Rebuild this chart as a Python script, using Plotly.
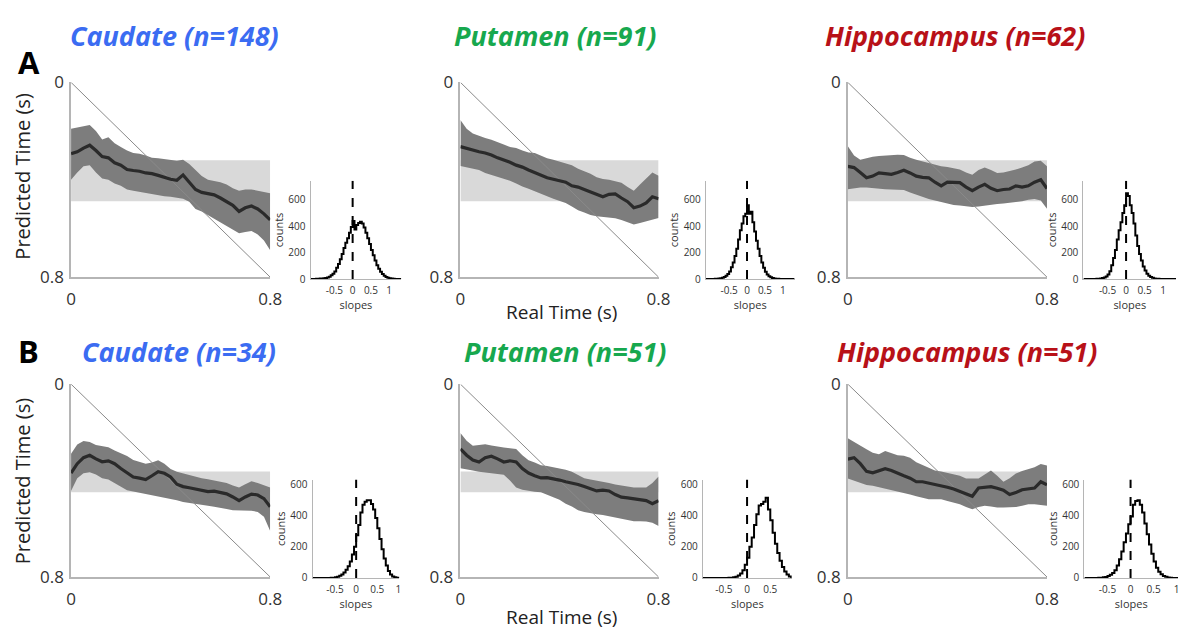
import numpy as np
import plotly.graph_objects as go

W, H = 1196, 641

# ---------------- data ----------------
t = np.round(np.linspace(0, 0.8, 33), 4)   # real time (s)

band_A = [0.32, 0.488]   # light grey reference band, row A
band_B = [0.362, 0.448]  # row B

caudA_mean = [0.293,0.285,0.27,0.258,0.28,0.305,0.31,0.33,0.34,0.358,0.362,0.365,0.372,0.375,0.382,0.39,0.398,0.402,0.38,0.41,0.44,0.452,0.458,0.462,0.475,0.49,0.505,0.53,0.515,0.508,0.52,0.54,0.565]
caudA_up = [0.19,0.185,0.18,0.175,0.2,0.235,0.225,0.25,0.265,0.28,0.29,0.293,0.3,0.31,0.312,0.315,0.318,0.322,0.318,0.335,0.36,0.385,0.4,0.405,0.41,0.42,0.435,0.445,0.44,0.44,0.445,0.45,0.455]
caudA_lo = [0.4,0.37,0.345,0.34,0.37,0.395,0.4,0.415,0.425,0.44,0.445,0.45,0.455,0.458,0.462,0.468,0.47,0.474,0.478,0.49,0.52,0.53,0.545,0.56,0.575,0.59,0.605,0.62,0.615,0.61,0.625,0.65,0.69]

putA_mean = [0.264,0.272,0.28,0.285,0.29,0.298,0.31,0.318,0.328,0.34,0.348,0.36,0.37,0.38,0.392,0.398,0.404,0.41,0.425,0.43,0.44,0.45,0.462,0.47,0.46,0.458,0.475,0.49,0.515,0.508,0.495,0.47,0.478]
putA_up = [0.155,0.19,0.21,0.22,0.228,0.236,0.244,0.255,0.265,0.27,0.28,0.288,0.29,0.3,0.312,0.318,0.325,0.33,0.34,0.355,0.365,0.375,0.39,0.397,0.4,0.405,0.412,0.43,0.445,0.42,0.397,0.37,0.384]
putA_lo = [0.344,0.35,0.355,0.36,0.372,0.38,0.386,0.395,0.404,0.415,0.428,0.437,0.448,0.46,0.468,0.478,0.487,0.495,0.51,0.525,0.535,0.545,0.55,0.552,0.555,0.558,0.565,0.575,0.584,0.578,0.57,0.565,0.557]

hipA_mean = [0.345,0.35,0.37,0.392,0.385,0.372,0.375,0.378,0.37,0.361,0.372,0.385,0.39,0.392,0.41,0.425,0.41,0.41,0.412,0.43,0.445,0.43,0.419,0.435,0.445,0.44,0.438,0.425,0.43,0.425,0.41,0.4,0.436]
hipA_up = [0.262,0.3,0.318,0.31,0.305,0.302,0.3,0.298,0.297,0.298,0.31,0.318,0.325,0.332,0.338,0.345,0.348,0.352,0.358,0.37,0.379,0.36,0.35,0.36,0.372,0.37,0.365,0.358,0.35,0.34,0.325,0.322,0.345]
hipA_lo = [0.439,0.435,0.432,0.432,0.435,0.438,0.439,0.44,0.44,0.442,0.452,0.462,0.47,0.479,0.485,0.492,0.498,0.504,0.506,0.51,0.512,0.51,0.506,0.504,0.5,0.498,0.495,0.492,0.488,0.482,0.479,0.485,0.519]

caudB_mean = [0.369,0.33,0.305,0.295,0.31,0.322,0.318,0.33,0.35,0.368,0.385,0.39,0.396,0.38,0.363,0.37,0.385,0.415,0.425,0.43,0.436,0.44,0.446,0.444,0.449,0.455,0.468,0.483,0.468,0.456,0.46,0.475,0.509]
caudB_up = [0.289,0.25,0.236,0.24,0.252,0.256,0.262,0.275,0.285,0.298,0.315,0.323,0.33,0.325,0.316,0.33,0.352,0.363,0.37,0.378,0.383,0.39,0.395,0.4,0.403,0.41,0.42,0.429,0.415,0.403,0.41,0.42,0.429]
caudB_lo = [0.443,0.39,0.37,0.365,0.375,0.39,0.396,0.41,0.425,0.44,0.445,0.45,0.456,0.46,0.465,0.469,0.475,0.482,0.489,0.492,0.496,0.5,0.504,0.509,0.512,0.518,0.523,0.523,0.523,0.525,0.53,0.55,0.609]

putB_mean = [0.269,0.295,0.315,0.323,0.305,0.299,0.31,0.323,0.318,0.323,0.35,0.369,0.38,0.389,0.388,0.392,0.398,0.405,0.409,0.416,0.425,0.435,0.443,0.44,0.443,0.458,0.469,0.472,0.476,0.48,0.483,0.496,0.483]
putB_up = [0.203,0.235,0.256,0.252,0.249,0.255,0.26,0.263,0.266,0.269,0.295,0.316,0.325,0.336,0.34,0.345,0.349,0.355,0.363,0.375,0.39,0.396,0.4,0.403,0.41,0.416,0.42,0.425,0.429,0.429,0.429,0.41,0.383]
putB_lo = [0.349,0.352,0.358,0.363,0.366,0.369,0.372,0.376,0.4,0.429,0.438,0.443,0.446,0.449,0.458,0.469,0.48,0.496,0.508,0.523,0.53,0.536,0.54,0.543,0.548,0.556,0.56,0.565,0.569,0.569,0.57,0.575,0.589]

hipB_mean = [0.311,0.305,0.33,0.362,0.368,0.36,0.351,0.358,0.37,0.38,0.39,0.405,0.405,0.41,0.415,0.42,0.428,0.435,0.445,0.455,0.465,0.431,0.428,0.425,0.432,0.44,0.458,0.45,0.438,0.435,0.431,0.405,0.418]
hipB_up = [0.224,0.24,0.257,0.27,0.285,0.291,0.277,0.285,0.295,0.297,0.305,0.324,0.335,0.348,0.358,0.362,0.368,0.371,0.38,0.391,0.391,0.391,0.375,0.358,0.38,0.405,0.39,0.371,0.36,0.351,0.345,0.331,0.338]
hipB_lo = [0.391,0.4,0.41,0.418,0.422,0.428,0.431,0.438,0.445,0.451,0.458,0.465,0.47,0.478,0.478,0.478,0.485,0.49,0.498,0.51,0.519,0.51,0.505,0.508,0.512,0.512,0.512,0.51,0.505,0.498,0.498,0.5,0.505]

# slope histograms (bin width 0.05, first left edge given)
bin_w = 0.05
caudA_start = -1.0
caudA_counts = [2,3,4,5,6,8,12,18,28,40,58,85,115,150,190,235,275,310,350,395,440,375,410,425,435,420,390,350,310,265,220,180,140,105,78,55,38,25,15,10,6,4,2,1]
putA_start = -1.0
putA_counts = [1,1,2,3,4,6,10,16,25,38,58,90,125,175,230,300,370,420,475,495,560,495,510,430,360,290,230,175,125,85,55,35,22,13,8,5,3,2,1,1]
hipA_start = -0.8
hipA_counts = [2,3,5,8,12,20,35,60,105,160,220,300,370,430,500,560,650,630,560,500,420,330,250,190,140,95,65,40,25,15,9,5,3,2,1]
caudB_start = -0.6
caudB_counts = [1,2,4,8,14,22,35,52,75,105,150,200,275,340,420,470,490,500,500,475,440,385,320,250,185,125,80,45,22,10,4,1]
putB_start = -0.4
putB_counts = [1,2,4,8,16,28,50,85,130,200,260,340,410,465,475,490,515,440,370,290,220,160,110,70,42,22,10,4]
hipB_start = -0.7
hipB_counts = [1,2,4,6,12,20,32,50,80,120,170,230,285,345,395,470,495,500,470,420,350,280,215,155,105,65,40,24,13,7,3,1]

titles_A = ["Caudate (n=148)", "Putamen (n=91)", "Hippocampus (n=62)"]
titles_B = ["Caudate (n=34)", "Putamen (n=51)", "Hippocampus (n=51)"]
title_colors = ["#3b6cf2", "#17a84e", "#b81118"]

main_ticks = [0, 0.8]
hist_xticks = [-0.5, 0, 0.5, 1]
hist_yticks = [0, 200, 400, 600]

# ---------------- layout geometry (pixels) ----------------
main_x = [(67, 269), (462, 663), (855, 1057)]
main_y = {"A": (73, 275), "B": (386, 586)}
hist_x = {"A": [(310, 402), (711, 801), (1094, 1188)],
          "B": [(312, 400), (708, 798), (1095, 1190)]}
hist_y = {"A": (175, 277), "B": (485, 587)}
hist_xrange = {"A": [[-1.15, 1.33], [-1.15, 1.33], [-1.15, 1.35]],
               "B": [[-1.03, 1.02], [-0.95, 0.96], [-1.0, 1.03]]}
hist_yrange = {"A": [0, 745], "B": [0, 632]}

def xd(p):
    return [p[0] / W, p[1] / W]

def yd(p):
    return [1 - p[1] / H, 1 - p[0] / H]

FONT = "Open Sans"
fig = go.Figure()
layout = {}

main_sets = {
    "A": [(caudA_mean, caudA_up, caudA_lo), (putA_mean, putA_up, putA_lo), (hipA_mean, hipA_up, hipA_lo)],
    "B": [(caudB_mean, caudB_up, caudB_lo), (putB_mean, putB_up, putB_lo), (hipB_mean, hipB_up, hipB_lo)],
}
hist_sets = {
    "A": [(caudA_start, caudA_counts), (putA_start, putA_counts), (hipA_start, hipA_counts)],
    "B": [(caudB_start, caudB_counts), (putB_start, putB_counts), (hipB_start, hipB_counts)],
}
bands = {"A": band_A, "B": band_B}

idx = 0
for row in ["A", "B"]:
    for c in range(3):
        # ---------- main panel ----------
        idx += 1
        xa, ya = f"x{idx}", f"y{idx}"
        mean, up, lo = main_sets[row][c]
        b0, b1 = bands[row]
        fig.add_trace(go.Scatter(x=[0, 0.8, 0.8, 0, 0], y=[b0, b0, b1, b1, b0], fill="toself",
                                 fillcolor="#d9d9d9", line=dict(width=0), mode="lines",
                                 xaxis=xa, yaxis=ya, hoverinfo="skip"))
        fig.add_trace(go.Scatter(x=t, y=up, mode="lines", line=dict(width=0, color="#7d7d7d"),
                                 xaxis=xa, yaxis=ya, hoverinfo="skip"))
        fig.add_trace(go.Scatter(x=t, y=lo, mode="lines", line=dict(width=0, color="#7d7d7d"),
                                 fill="tonexty", fillcolor="#7d7d7d", xaxis=xa, yaxis=ya, hoverinfo="skip"))
        fig.add_trace(go.Scatter(x=main_ticks, y=main_ticks, mode="lines",
                                 line=dict(width=1, color="#8a8a8a"), xaxis=xa, yaxis=ya, hoverinfo="skip"))
        fig.add_trace(go.Scatter(x=t, y=mean, mode="lines", line=dict(width=3.2, color="#2a2a2a"),
                                 xaxis=xa, yaxis=ya))
        common = dict(showgrid=False, zeroline=False, showline=True, linecolor="#b5b5b5", linewidth=1.5,
                      ticks="", tickvals=main_ticks, ticktext=["0", "0.8"],
                      tickfont=dict(family=FONT, size=17, color="#333333"))
        layout[f"xaxis{idx}"] = dict(domain=xd(main_x[c]), range=[0, 0.8], anchor=ya,
                                     ticklabelstandoff=6, **common)
        layout[f"yaxis{idx}"] = dict(domain=yd(main_y[row]), range=[0.8, 0], anchor=xa,
                                     ticklabelstandoff=2, **common)

        # ---------- histogram ----------
        idx += 1
        xa, ya = f"x{idx}", f"y{idx}"
        start, counts = hist_sets[row][c]
        edges = start + bin_w * np.arange(len(counts) + 1)
        xr = hist_xrange[row][c]
        hx = [xr[0]] + list(edges) + [xr[1]]
        hy = [0] + list(counts) + [0, 0]
        fig.add_trace(go.Scatter(x=hx, y=hy, mode="lines", line=dict(shape="hv", width=2, color="#000000"),
                                 xaxis=xa, yaxis=ya))
        fig.add_trace(go.Scatter(x=[0, 0], y=hist_yrange[row], mode="lines",
                                 line=dict(width=2, color="#000000", dash="dash"), xaxis=xa, yaxis=ya))
        hcommon = dict(showgrid=False, zeroline=False, showline=True, linecolor="#b5b5b5", linewidth=1.2,
                       ticks="", tickfont=dict(family=FONT, size=10, color="#333333"))
        layout[f"xaxis{idx}"] = dict(domain=xd(hist_x[row][c]), range=xr, anchor=ya,
                                     tickvals=hist_xticks, ticktext=["-0.5", "0", "0.5", "1"],
                                     title=dict(text="slopes", font=dict(family=FONT, size=11, color="#333"), standoff=0),
                                     ticklabelstandoff=2, **hcommon)
        layout[f"yaxis{idx}"] = dict(domain=yd(hist_y[row]), range=hist_yrange[row], anchor=xa,
                                     tickvals=hist_yticks,
                                     title=dict(text="counts", font=dict(family=FONT, size=11, color="#333"), standoff=2),
                                     ticklabelstandoff=2, **hcommon)

annotations = []
title_right_A = [280, 662, 1098]
title_right_B = [277, 673, 1110]
for c in range(3):
    annotations.append(dict(text=f"<b><i>{titles_A[c]}</i></b>", x=title_right_A[c] / W, y=1 - 24 / H,
                            xref="paper", yref="paper", xanchor="right", yanchor="middle", showarrow=False,
                            font=dict(family=FONT, size=27, color=title_colors[c])))
    annotations.append(dict(text=f"<b><i>{titles_B[c]}</i></b>", x=title_right_B[c] / W, y=1 - 352 / H,
                            xref="paper", yref="paper", xanchor="right", yanchor="middle", showarrow=False,
                            font=dict(family=FONT, size=27, color=title_colors[c])))
for lab, yy in [("A", 52), ("B", 352)]:
    annotations.append(dict(text=f"<b>{lab}</b>", x=24 / W, y=1 - yy / H, xref="paper", yref="paper",
                            xanchor="center", yanchor="middle", showarrow=False,
                            font=dict(family=FONT, size=31, color="#000")))
for yy in [170, 486]:
    annotations.append(dict(text="Predicted Time (s)", x=18 / W, y=1 - yy / H, xref="paper", yref="paper",
                            xanchor="center", yanchor="middle", textangle=-90, showarrow=False,
                            font=dict(family=FONT, size=20, color="#222")))
for yy in [311, 627]:
    annotations.append(dict(text="Real Time (s)", x=565 / W, y=1 - yy / H, xref="paper", yref="paper",
                            xanchor="center", yanchor="middle", showarrow=False,
                            font=dict(family=FONT, size=19, color="#222")))

fig.update_layout(width=W, height=H, margin=dict(l=0, r=0, t=0, b=0), showlegend=False,
                  plot_bgcolor="white", paper_bgcolor="white", annotations=annotations, **layout)

fig.write_html("out.html")
